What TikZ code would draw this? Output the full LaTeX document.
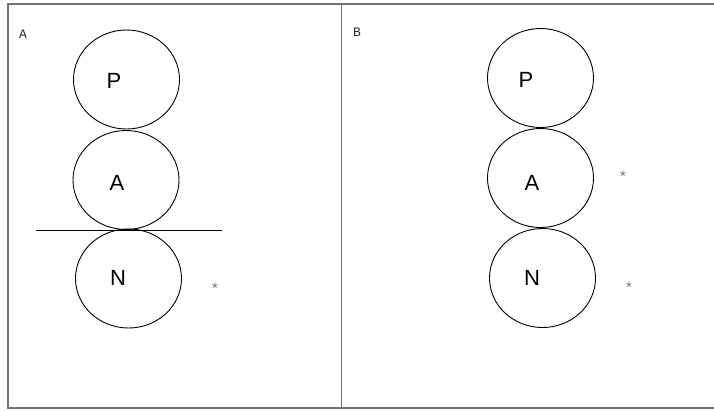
\documentclass[tikz,border=0pt]{standalone}
\usepackage{fontspec}
\setmainfont{Liberation Sans}
\newfontfamily\panelfont{Liberation Mono}
\usetikzlibrary{shapes.geometric}
\begin{document}
\begin{tikzpicture}[x=1pt,y=-1pt,
  frame/.style={draw=black!55,line width=1.4pt},
  ball/.style={ellipse,draw=black,line width=0.9pt,minimum width=106pt,minimum height=99pt,inner sep=0pt},
  letter/.style={font=\fontsize{22}{24}\selectfont},
  plabel/.style={font=\panelfont\fontsize{13}{15}\selectfont,text=black!85},
  star/.style={font=\fontsize{15}{16}\selectfont,text=black!55,inner sep=0pt}]
\useasboundingbox (0,0) rectangle (714,410);
% frame
\draw[frame] (714,4) -- (8,4) -- (8,408) -- (714,408);
\draw[frame,line width=1pt] (341,4) -- (341,408);
% panel labels
\node[plabel] (la) at (23,34) {A};
\node[plabel] (lb) at (357,32) {B};
% panel A
\node[ball] (pa) at (126.5,79.5) {};
\node[ball] (aa) at (126,180) {};
\node[ball] (na) at (128.5,278.5) {};
\node[letter] (tpa) at (114,81) {P};
\node[letter] (taa) at (117,183) {A};
\node[letter] (tna) at (118,278) {N};
\coordinate (l1) at (36,230);
\coordinate (l2) at (222,230);
\draw[line width=0.9pt] (l1) -- (l2);
\node[star] (sa) at (215,288) {*};
% panel B
\node[ball] (pb) at (540.5,78) {};
\node[ball] (ab) at (540.5,178) {};
\node[ball] (nb) at (542.5,278) {};
\node[letter] (tpb) at (526,80) {P};
\node[letter] (tab) at (532,183) {A};
\node[letter] (tnb) at (532,278) {N};
\node[star] (sb1) at (623,176.5) {*};
\node[star] (sb2) at (629,287.5) {*};
\end{tikzpicture}
\end{document}
